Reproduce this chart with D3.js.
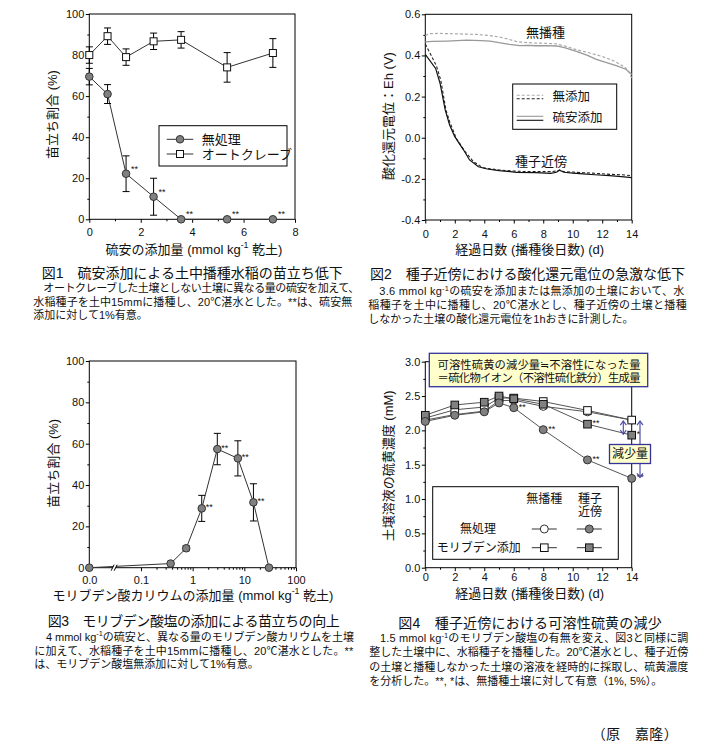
<!DOCTYPE html>
<html>
<head>
<meta charset="utf-8">
<script src="https://cdn.jsdelivr.net/npm/d3@7"></script>
<style>
  body { margin: 0; background: #fff; }
  svg text { font-family: "Liberation Sans", Arial, "Noto Sans CJK JP", sans-serif; fill: #111; }
</style>
</head>
<body>
<script>
// ---------- DATA ----------

// 図1: 硫安の添加量 (mmol/kg) と苗立ち割合 (%)
var fig1Dose = [0, 0.71, 1.43, 2.5, 3.57, 5.36, 7.14];
var fig1Mushori = [69.5, 61, 22.2, 11, 0, 0, 0];
var fig1MushoriErr = [4, 4.6, 8.7, 9, 0, 0, 0];
var fig1MushoriSig = ["", "", "**", "**", "**", "**", "**"];
var fig1Auto = [80, 89.2, 79, 86.7, 87.4, 74, 81];
var fig1AutoErr = [4, 4, 4, 4, 4, 7.2, 7];
var fig1XTicks = [0, 2, 4, 6, 8];
var fig1YTicks = [0, 20, 40, 60, 80, 100];

// 図2: 酸化還元電位 (V) の推移
var fig2NoSeedNoneDay = [0, 0.3, 1, 1.7, 2.5, 3.5, 4.3, 5, 5.6, 6.2, 7, 7.5, 8.2, 8.9, 9.5, 10.3, 11, 11.4, 12, 12.8, 13.5, 13.8, 14];
var fig2NoSeedNone = [0.497, 0.506, 0.507, 0.506, 0.504, 0.502, 0.497, 0.49, 0.48, 0.467, 0.462, 0.46, 0.459, 0.456, 0.445, 0.427, 0.415, 0.407, 0.395, 0.373, 0.345, 0.322, 0.288];
var fig2NoSeedAmsDay = [0, 0.5, 1.5, 2.8, 3.8, 4.4, 5, 5.7, 6.4, 7, 7.5, 8.2, 8.9, 9.5, 10.3, 11, 11.6, 12.3, 13, 13.6, 14];
var fig2NoSeedAms = [0.466, 0.468, 0.47, 0.474, 0.472, 0.47, 0.462, 0.454, 0.448, 0.449, 0.447, 0.448, 0.446, 0.437, 0.418, 0.4, 0.381, 0.365, 0.349, 0.333, 0.308];
var fig2SeedNoneDay = [0, 0.4, 0.75, 1.05, 1.4, 1.65, 2.1, 2.7, 3.26, 3.9, 5, 6, 6.9, 7.7, 8.5, 8.9, 9.1, 9.4, 10, 10.7, 11.5, 12.5, 13.3, 14];
var fig2SeedNone = [0.455, 0.4, 0.35, 0.28, 0.135, 0.078, -0.003, -0.068, -0.116, -0.146, -0.157, -0.162, -0.165, -0.165, -0.165, -0.162, -0.157, -0.165, -0.167, -0.17, -0.173, -0.178, -0.18, -0.184];
var fig2SeedAmsDay = [0, 0.7, 1.0, 1.35, 1.65, 2.0, 2.6, 3.0, 3.6, 4.2, 5, 6.2, 7.5, 8.5, 8.9, 9.1, 9.4, 10, 10.7, 11.5, 12.5, 13.3, 14];
var fig2SeedAms = [0.405, 0.337, 0.265, 0.135, 0.062, 0.005, -0.06, -0.108, -0.141, -0.152, -0.16, -0.168, -0.17, -0.173, -0.168, -0.158, -0.168, -0.172, -0.176, -0.18, -0.184, -0.189, -0.194];
var fig2XTicks = [0, 2, 4, 6, 8, 10, 12, 14];
var fig2YTicks = [-0.4, -0.2, 0, 0.2, 0.4, 0.6];

// 図3: モリブデン酸カリウムの添加量と苗立ち割合
var fig3Dose = [0, 0.375, 0.75, 1.5, 3, 7.5, 15, 30];
var fig3Rate = [0, 2, 9.4, 28.7, 57.4, 52.9, 31.6, 0];
var fig3Err = [0, 0, 1.2, 6.3, 7.6, 8.5, 9, 0];
var fig3Sig = ["", "", "", "**", "**", "**", "**", ""];
var fig3XTicks = [0.01, 0.1, 1, 10, 100];
var fig3XTickLabels = ["0.0", "0.1", "1", "10", "100"];
var fig3YTicks = [0, 20, 40, 60, 80, 100];

// 図4: 土壌溶液の硫黄濃度 (mM)
var fig4Day = [0, 2, 4, 5, 6, 8, 11, 14];
var fig4NoSeedCtrl = [2.15, 2.23, 2.28, 2.43, 2.44, 2.35, 2.27, 2.15];
var fig4NoSeedMo = [2.18, 2.30, 2.34, 2.47, 2.47, 2.42, 2.29, 2.15];
var fig4SeedMo = [2.22, 2.37, 2.41, 2.50, 2.46, 2.38, 2.09, 1.93];
var fig4SeedCtrl = [2.13, 2.22, 2.27, 2.40, 2.33, 2.01, 1.57, 1.30];
var fig4SeedMoSig = ["", "", "", "", "", "", "**", "*"];
var fig4SeedCtrlSig = ["", "", "", "", "**", "**", "**", "**"];
var fig4XTicks = [0, 2, 4, 6, 8, 10, 12, 14];
var fig4YTicks = [0, 0.5, 1, 1.5, 2, 2.5, 3];

// キャプション
var fig1Title = "図1　硫安添加による土中播種水稲の苗立ち低下";
var fig1Text = ["オートクレーブした土壌としない土壌に異なる量の硫安を加えて、",
    "水稲種子を土中15mmに播種し、20℃湛水とした。**は、硫安無",
    "添加に対して1%有意。"];
var fig2Title = "図2　種子近傍における酸化還元電位の急激な低下";
var fig2Text = ["3.6 mmol kg^{-1}の硫安を添加または無添加の土壌において、水",
    "稲種子を土中に播種し、20℃湛水とし、種子近傍の土壌と播種",
    "しなかった土壌の酸化還元電位を1hおきに計測した。"];
var fig3Title = "図3　モリブデン酸塩の添加による苗立ちの向上";
var fig3Text = ["4 mmol kg^{-1}の硫安と、異なる量のモリブデン酸カリウムを土壌",
    "に加えて、水稲種子を土中15mmに播種し、20℃湛水とした。**",
    "は、モリブデン酸塩無添加に対して1%有意。"];
var fig4Title = "図4　種子近傍における可溶性硫黄の減少";
var fig4Text = ["1.5 mmol kg^{-1}のモリブデン酸塩の有無を変え、図3と同様に調",
    "整した土壌中に、水稲種子を播種した。20℃湛水とし、種子近傍",
    "の土壌と播種しなかった土壌の溶液を経時的に採取し、硫黄濃度",
    "を分析した。**, *は、無播種土壌に対して有意（1%, 5%）。"];
var author = "（原　嘉隆）";

// ---------- HELPERS ----------

var svg = d3.select("body").append("svg")
    .attr("width", 705)
    .attr("height", 751);

svg.append("rect").attr("width", 705).attr("height", 751).attr("fill", "#fff");

// text with ^{...} superscripts
function rich(t, str, size) {
    var parts = str.split(/\^\{([^}]*)\}/);
    var shift = size * 0.3;
    var pending = 0;
    parts.forEach(function (p, i) {
        if (!p) return;
        var ts = t.append("tspan").text(p);
        if (i % 2 === 1) {
            ts.attr("font-size", size * 0.68).attr("dy", -shift);
            pending = shift;
        } else if (pending) {
            ts.attr("dy", pending);
            pending = 0;
        }
    });
    return t;
}

function label(g, x, y, str, size, anchor, rotate) {
    var t = g.append("text")
        .attr("font-size", size)
        .attr("text-anchor", anchor || "middle")
        .attr("dominant-baseline", "central");
    if (rotate) {
        t.attr("transform", "translate(" + x + "," + y + ") rotate(-90)");
    } else {
        t.attr("x", x).attr("y", y);
    }
    return rich(t, str, size);
}

function drawAxes(g, x, y, o) {
    var x0 = x.range()[0], x1 = x.range()[1], y0 = y.range()[0], y1 = y.range()[1];
    g.append("rect")
        .attr("x", x0).attr("y", y1)
        .attr("width", x1 - x0).attr("height", y0 - y1)
        .attr("fill", "none").attr("stroke", "#000").attr("stroke-width", 1);

    g.append("g").attr("transform", "translate(0," + y0 + ")")
        .call(d3.axisBottom(x).tickValues(o.xMinor).tickSize(2).tickFormat(""))
        .call(function (s) { s.select(".domain").remove(); });
    g.append("g").attr("transform", "translate(" + x0 + ",0)")
        .call(d3.axisLeft(y).tickValues(o.yMinor).tickSize(2).tickFormat(""))
        .call(function (s) { s.select(".domain").remove(); });

    g.append("g").attr("transform", "translate(0," + y0 + ")")
        .call(d3.axisBottom(x).tickValues(o.xTicks).tickSize(3.5).tickPadding(o.xPad).tickFormat(o.xFormat))
        .call(function (s) { s.select(".domain").remove(); })
        .attr("font-size", 11);
    g.append("g").attr("transform", "translate(" + x0 + ",0)")
        .call(d3.axisLeft(y).tickValues(o.yTicks).tickSize(3.5).tickPadding(1.5).tickFormat(o.yFormat))
        .call(function (s) { s.select(".domain").remove(); })
        .attr("font-size", 11);
}

function rows(xs, ys, es, sig) {
    return xs.map(function (d, i) {
        return { x: d, y: ys[i], e: es ? es[i] : 0, s: sig ? sig[i] : "" };
    });
}

function errorBars(g, data, x, y) {
    var eb = g.selectAll(null).data(data.filter(function (d) { return d.e > 0; })).enter().append("g")
        .attr("stroke", "#000").attr("stroke-width", 1);
    eb.append("line")
        .attr("x1", function (d) { return x(d.x); }).attr("x2", function (d) { return x(d.x); })
        .attr("y1", function (d) { return y(d.y - d.e); }).attr("y2", function (d) { return y(d.y + d.e); });
    [-1, 1].forEach(function (k) {
        eb.append("line")
            .attr("x1", function (d) { return x(d.x) - 3.5; }).attr("x2", function (d) { return x(d.x) + 3.5; })
            .attr("y1", function (d) { return y(d.y + k * d.e); }).attr("y2", function (d) { return y(d.y + k * d.e); });
    });
}

function markers(g, data, x, y, shape, fill, size) {
    var sel = g.selectAll(null).data(data).enter();
    if (shape === "circle") {
        sel.append("circle")
            .attr("cx", function (d) { return x(d.x); })
            .attr("cy", function (d) { return y(d.y); })
            .attr("r", size)
            .attr("fill", fill).attr("stroke", "#333").attr("stroke-width", 1);
    } else {
        sel.append("rect")
            .attr("x", function (d) { return x(d.x) - size; })
            .attr("y", function (d) { return y(d.y) - size; })
            .attr("width", size * 2).attr("height", size * 2)
            .attr("fill", fill).attr("stroke", "#111").attr("stroke-width", 1);
    }
}

function stars(g, data, x, y, dx, dy) {
    g.selectAll(null).data(data.filter(function (d) { return d.s; })).enter().append("text")
        .attr("x", function (d) { return x(d.x) + dx; })
        .attr("y", function (d) { return y(d.y) + dy; })
        .attr("font-size", 9)
        .attr("dominant-baseline", "central")
        .text(function (d) { return d.s; });
}

function polyline(g, data, x, y, color, width, dash) {
    g.append("path").datum(data)
        .attr("fill", "none").attr("stroke", color).attr("stroke-width", width)
        .attr("stroke-dasharray", dash || null)
        .attr("d", d3.line().x(function (d) { return x(d.x); }).y(function (d) { return y(d.y); }));
}

function caption(title, lines, tx, ty, tlen, lx, ly, lens, firstIndent) {
    svg.append("text").attr("x", tx).attr("y", ty)
        .attr("font-size", 14).attr("dominant-baseline", "central")
        .attr("textLength", tlen).attr("lengthAdjust", "spacing")
        .text(title);
    lines.forEach(function (str, i) {
        var t = svg.append("text")
            .attr("x", i === 0 ? lx + firstIndent : lx)
            .attr("y", ly[i])
            .attr("font-size", 11)
            .attr("dominant-baseline", "central");
        if (lens[i]) t.attr("textLength", lens[i]).attr("lengthAdjust", "spacing");
        rich(t, str, 11);
    });
}

var fmt1 = function (d) { return d.toFixed(1); };
var fmt0 = function (d) { return String(d); };

// ---------- 図1 ----------
var g1 = svg.append("g");
var x1 = d3.scaleLinear().domain([0, 8]).range([89.3, 295]);
var y1 = d3.scaleLinear().domain([0, 100]).range([219.3, 14]);
drawAxes(g1, x1, y1, {
    xTicks: fig1XTicks, xMinor: [1, 3, 5, 7], xPad: 5.5, xFormat: fmt0,
    yTicks: fig1YTicks, yMinor: [10, 30, 50, 70, 90], yFormat: fmt0
});
var f1a = rows(fig1Dose, fig1Auto, fig1AutoErr);
var f1m = rows(fig1Dose, fig1Mushori, fig1MushoriErr, fig1MushoriSig);
polyline(g1, f1a, x1, y1, "#333", 1);
polyline(g1, f1m, x1, y1, "#333", 1);
errorBars(g1, f1a, x1, y1);
errorBars(g1, f1m, x1, y1);
markers(g1, f1a, x1, y1, "square", "#fff", 3.5);
markers(g1, f1m, x1, y1, "circle", "#808080", 3.8);
stars(g1, f1m, x1, y1, 5, -5);
label(g1, 194, 248.5, "硫安の添加量 (mmol kg^{-1} 乾土)", 13);
label(g1, 52, 114.5, "苗立ち割合 (%)", 13, "middle", true);

// legend
g1.append("rect").attr("x", 159).attr("y", 125.7).attr("width", 128).attr("height", 40.3)
    .attr("fill", "#fff").attr("stroke", "#000");
[{ y: 139.3, shape: "circle", fill: "#808080", name: "無処理" },
 { y: 154, shape: "square", fill: "#fff", name: "オートクレーブ" }].forEach(function (l) {
    g1.append("line").attr("x1", 166.7).attr("x2", 193.3).attr("y1", l.y).attr("y2", l.y)
        .attr("stroke", "#333");
    if (l.shape === "circle") {
        g1.append("circle").attr("cx", 180).attr("cy", l.y).attr("r", 3.8)
            .attr("fill", l.fill).attr("stroke", "#333");
    } else {
        g1.append("rect").attr("x", 176.5).attr("y", l.y - 3.5).attr("width", 7).attr("height", 7)
            .attr("fill", l.fill).attr("stroke", "#111");
    }
    label(g1, 201.7, l.y, l.name, 13, "start");
});

// ---------- 図2 ----------
var g2 = svg.append("g");
var x2 = d3.scaleLinear().domain([0, 14]).range([425.3, 631.7]);
var y2 = d3.scaleLinear().domain([-0.4, 0.6]).range([220, 14.3]);
drawAxes(g2, x2, y2, {
    xTicks: fig2XTicks, xMinor: [1, 3, 5, 7, 9, 11, 13], xPad: 6.5, xFormat: fmt0,
    yTicks: fig2YTicks, yMinor: [-0.3, -0.1, 0.1, 0.3, 0.5], yFormat: fmt1
});
polyline(g2, rows(fig2NoSeedNoneDay, fig2NoSeedNone), x2, y2, "#aaa", 1.2, "3,2");
polyline(g2, rows(fig2NoSeedAmsDay, fig2NoSeedAms), x2, y2, "#999", 1.3);
polyline(g2, rows(fig2SeedNoneDay, fig2SeedNone), x2, y2, "#222", 1.1, "3,2");
polyline(g2, rows(fig2SeedAmsDay, fig2SeedAms), x2, y2, "#111", 1.2);
label(g2, 545.5, 32.3, "無播種", 13);
label(g2, 541, 161, "種子近傍", 13);
label(g2, 529.7, 248.5, "経過日数 (播種後日数) (d)", 13);
label(g2, 388.3, 116, "酸化還元電位：Eh (V)", 13, "middle", true);

g2.append("rect").attr("x", 512.7).attr("y", 84).attr("width", 104).attr("height", 45.3)
    .attr("fill", "#fff").attr("stroke", "#000");
[{ y: 95.3, c: "#aaa", d: "3,2" }, { y: 98.7, c: "#222", d: "3,2" },
 { y: 116.3, c: "#999", d: null }, { y: 120.3, c: "#111", d: null }].forEach(function (l) {
    g2.append("line").attr("x1", 516.7).attr("x2", 543.3).attr("y1", l.y).attr("y2", l.y)
        .attr("stroke", l.c).attr("stroke-width", 1.1).attr("stroke-dasharray", l.d);
});
label(g2, 552.5, 97, "無添加", 12.5, "start");
label(g2, 552.5, 118.3, "硫安添加", 12.5, "start");

// ---------- 図3 ----------
var g3 = svg.append("g");
var x3log = d3.scaleLog().domain([0.01, 100]).range([89.3, 296]);
var x3 = function (d) { return x3log(d === 0 ? 0.01 : d); };
var y3 = d3.scaleLinear().domain([0, 100]).range([567.7, 361]);
var minorLog = [];
[0.1, 1, 10].forEach(function (b) { for (var k = 2; k <= 9; k++) minorLog.push(b * k); });
drawAxes(g3, x3log, y3, {
    xTicks: fig3XTicks, xMinor: minorLog, xPad: 5.5, xFormat: function (d, i) { return fig3XTickLabels[i]; },
    yTicks: fig3YTicks, yMinor: [10, 30, 50, 70, 90], yFormat: fmt0
});
var f3 = rows(fig3Dose, fig3Rate, fig3Err, fig3Sig);
polyline(g3, f3, x3, y3, "#333", 1);
// axis break
var xb = x3log(Math.pow(10, -1.5));
g3.append("path")
    .attr("d", "M" + (xb - 4) + "," + (567.7 + 3) + "L" + (xb - 1) + "," + (567.7 - 3) +
               "L" + (xb + 2) + "," + (567.7 - 3) + "L" + (xb - 1) + "," + (567.7 + 3) + "Z")
    .attr("fill", "#fff").attr("stroke", "none");
[-4, -1].forEach(function (o) {
    g3.append("line").attr("x1", xb + o).attr("y1", 567.7 + 3).attr("x2", xb + o + 3).attr("y2", 567.7 - 3)
        .attr("stroke", "#000").attr("stroke-width", 1);
});
errorBars(g3, f3, x3, y3);
markers(g3, f3, x3, y3, "circle", "#808080", 3.8);
stars(g3, f3, x3, y3, 4, -1);
label(g3, 193, 595, "モリブデン酸カリウムの添加量 (mmol kg^{-1} 乾土)", 13);
label(g3, 53.3, 463.3, "苗立ち割合 (%)", 13, "middle", true);

// ---------- 図4 ----------
var g4 = svg.append("g");
var x4 = d3.scaleLinear().domain([0, 14]).range([425.3, 631.7]);
var y4 = d3.scaleLinear().domain([0, 3]).range([567.7, 361.7]);
drawAxes(g4, x4, y4, {
    xTicks: fig4XTicks, xMinor: [1, 3, 5, 7, 9, 11, 13], xPad: 2.5, xFormat: fmt0,
    yTicks: fig4YTicks, yMinor: [0.25, 0.75, 1.25, 1.75, 2.25, 2.75], yFormat: fmt1
});
var f4a = rows(fig4Day, fig4NoSeedCtrl);
var f4b = rows(fig4Day, fig4NoSeedMo);
var f4c = rows(fig4Day, fig4SeedMo, null, fig4SeedMoSig);
var f4d = rows(fig4Day, fig4SeedCtrl, null, fig4SeedCtrlSig);
[f4a, f4b, f4c, f4d].forEach(function (s) { polyline(g4, s, x4, y4, "#555", 1); });
markers(g4, f4a, x4, y4, "circle", "#fff", 4);
markers(g4, f4b, x4, y4, "square", "#fff", 3.8);
markers(g4, f4c, x4, y4, "square", "#808080", 3.8);
markers(g4, f4d, x4, y4, "circle", "#808080", 4);
stars(g4, f4c, x4, y4, 5, -1);
stars(g4, f4d, x4, y4, 5, -1);
label(g4, 529.7, 593.3, "経過日数 (播種後日数) (d)", 13);
label(g4, 388.3, 465.8, "土壌溶液の硫黄濃度 (mM)", 13, "middle", true);

// 減少量の矢印
var arrowColor = "#5050a8";
function dblArrow(xp, v1, v2) {
    var ya = y4(v1) + 1, yb = y4(v2) - 1;
    g4.append("line").attr("x1", xp).attr("x2", xp).attr("y1", ya).attr("y2", yb)
        .attr("stroke", arrowColor).attr("stroke-width", 1.2);
    g4.append("path")
        .attr("d", "M" + (xp - 3) + "," + (ya + 4) + "L" + xp + "," + ya + "L" + (xp + 3) + "," + (ya + 4) +
                   "M" + (xp - 3) + "," + (yb - 4) + "L" + xp + "," + yb + "L" + (xp + 3) + "," + (yb - 4))
        .attr("fill", "none").attr("stroke", arrowColor).attr("stroke-width", 1.2);
}
var last = fig4Day.length - 1;
dblArrow(x4(fig4Day[last]) - 8.4, fig4NoSeedMo[last], fig4SeedMo[last]);
dblArrow(x4(fig4Day[last]) + 8.3, fig4NoSeedMo[last], fig4SeedCtrl[last]);

g4.append("rect").attr("x", 609.5).attr("y", 444.5).attr("width", 41).attr("height", 19)
    .attr("fill", "#ffffcc").attr("stroke", "#333399").attr("stroke-width", 1.3);
label(g4, 630, 454, "減少量", 12);

// 注釈ボックス
g4.append("rect").attr("x", 429.3).attr("y", 353.3).attr("width", 218.4).attr("height", 33.4)
    .attr("fill", "#ffffcc").attr("stroke", "#333399").attr("stroke-width", 1.3);
label(g4, 539, 365, "可溶性硫黄の減少量≒不溶性になった量", 11.3)
    .attr("textLength", 203).attr("lengthAdjust", "spacing");
label(g4, 539, 378.3, "＝硫化物イオン（不溶性硫化鉄分）生成量", 11.3)
    .attr("textLength", 203).attr("lengthAdjust", "spacing");

// 凡例
g4.append("rect").attr("x", 432.7).attr("y", 486.7).attr("width", 185.6).attr("height", 72.6)
    .attr("fill", "#fff").attr("stroke", "#000");
label(g4, 544.3, 499, "無播種", 12);
label(g4, 590, 499, "種子", 12);
label(g4, 590, 512, "近傍", 12);
label(g4, 478, 529, "無処理", 12);
label(g4, 478.7, 547.7, "モリブデン添加", 12);
[{ x: 544.3, y: 529, shape: "circle", fill: "#fff" },
 { x: 589.3, y: 529, shape: "circle", fill: "#808080" },
 { x: 544.3, y: 547.7, shape: "square", fill: "#fff" },
 { x: 589.3, y: 547.7, shape: "square", fill: "#808080" }].forEach(function (l) {
    g4.append("line").attr("x1", l.x - 12.5).attr("x2", l.x + 12.5).attr("y1", l.y).attr("y2", l.y)
        .attr("stroke", "#333");
    if (l.shape === "circle") {
        g4.append("circle").attr("cx", l.x).attr("cy", l.y).attr("r", 4)
            .attr("fill", l.fill).attr("stroke", "#333");
    } else {
        g4.append("rect").attr("x", l.x - 3.8).attr("y", l.y - 3.8).attr("width", 7.6).attr("height", 7.6)
            .attr("fill", l.fill).attr("stroke", "#111");
    }
});

// ---------- キャプション ----------
caption(fig1Title, fig1Text, 41.7, 273.3, 301, 33.3, [288, 301.5, 315], [316, 319, 0], 10);
caption(fig2Title, fig2Text, 370, 274, 315, 368.3, [291, 305, 318.7], [305, 318.4, 0], 11);
caption(fig3Title, fig3Text, 47.7, 621.2, 292, 34.3, [636.5, 651, 664.3], [308, 319, 0], 11.7);
caption(fig4Title, fig4Text, 398.3, 622.6, 263.4, 369.3, [638.2, 652, 666.7, 681], [308.3, 319, 319, 0], 10.7);

svg.append("text").attr("x", 591.7).attr("y", 734)
    .attr("font-size", 14).attr("dominant-baseline", "central")
    .attr("textLength", 86).attr("lengthAdjust", "spacing")
    .text(author);
</script>
</body>
</html>
